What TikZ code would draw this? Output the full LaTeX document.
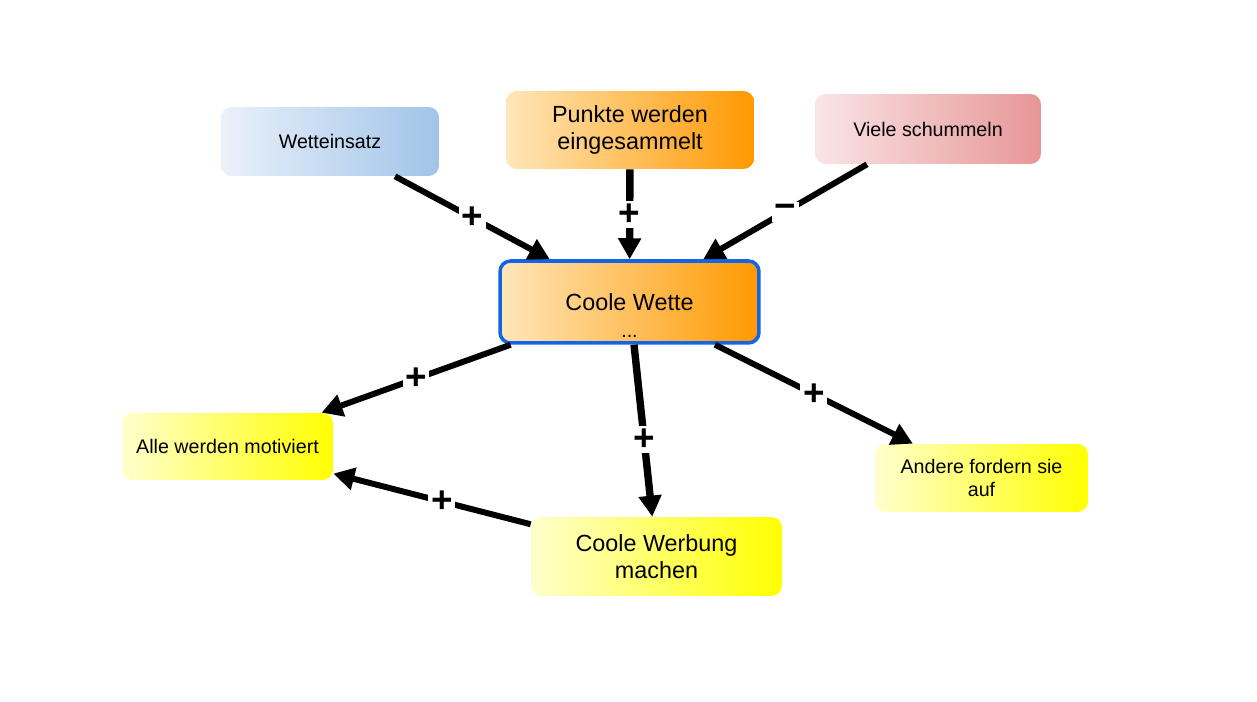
\documentclass[tikz,border=0pt]{standalone}
\usepackage{fontspec}
\setmainfont{Liberation Sans}
\usetikzlibrary{arrows.meta,positioning}
\definecolor{stakeblue}{RGB}{160, 196, 232}
\definecolor{stakelight}{RGB}{234, 241, 250}
\definecolor{hotorange}{RGB}{255, 153, 0}
\definecolor{hotlight}{RGB}{255, 230, 186}
\definecolor{cheatred}{RGB}{232, 150, 150}
\definecolor{cheatlight}{RGB}{249, 229, 231}
\definecolor{resultyellow}{RGB}{255, 255, 0}
\definecolor{resultlight}{RGB}{255, 255, 205}
\definecolor{focusblue}{RGB}{20, 100, 230}
\tikzset{
 smallbox/.style={
 rectangle,
 rounded corners=6pt,
 align=center,
 inner sep=0pt,
 font=\fontsize{11.2}{13.6}\selectfont
 },
 bigbox/.style={
 smallbox,
 font=\fontsize{13.3}{15.6}\selectfont
 },
 bluefill/.style={left color=stakelight, middle color=stakeblue!70!stakelight, right color=stakeblue},
 orangefill/.style={left color=hotlight, middle color=hotorange!70!hotlight, right color=hotorange},
 redfill/.style={left color=cheatlight, middle color=cheatred!65!cheatlight, right color=cheatred},
 yellowfill/.style={left color=resultlight, middle color=resultyellow!75!resultlight, right color=resultyellow},
 effect/.style={-{Triangle[length=4.2mm, width=4.4mm]}, line width=3.4pt},
 sign/.style={fill=white, inner sep=1.5pt, font=\fontsize{21}{21}\selectfont\bfseries}
}

\begin{document}
\begin{tikzpicture}[x=0.02cm, y=-0.02cm]
 \useasboundingbox (0,0) rectangle (1257,702);

 \node[smallbox, bluefill, minimum width=4.36cm, minimum height=1.38cm] (stake) at (330,141.5) {Wetteinsatz};
 \node[bigbox, orangefill, minimum width=4.96cm, minimum height=1.56cm] (points) at (630,130) {Punkte werden\\eingesammelt};
 \node[smallbox, redfill, minimum width=4.52cm, minimum height=1.40cm] (cheat) at (928,129) {Viele schummeln};

 \node[bigbox, orangefill, draw=focusblue, line width=2pt, minimum width=5.18cm, minimum height=1.64cm,
 label={[anchor=south, inner sep=4pt, font=\fontsize{11.2}{13}\selectfont]south:...}] (bet) at (629.5,302) {Coole Wette};

 \node[smallbox, yellowfill, minimum width=4.22cm, minimum height=1.34cm] (motiv) at (227.5,446.5) {Alle werden motiviert};
 \node[smallbox, yellowfill, minimum width=4.26cm, minimum height=1.36cm] (others) at (981.5,478) {Andere fordern sie\\auf};
 \node[bigbox, yellowfill, minimum width=5.02cm, minimum height=1.58cm] (ads) at (656.5,556.5) {Coole Werbung\\machen};

 \draw[effect] (stake) -- node[sign] {+} (bet);
 \draw[effect, line width=4.2pt] (points) -- node[sign] {+} (bet);
 \draw[effect] (cheat) -- node[sign] {\symbol{"2212}} (bet);
 \draw[effect] (bet) -- node[sign] {+} (motiv);
 \draw[effect, line width=4.2pt] (bet) -- node[sign, pos=0.55] {+} (ads);
 \draw[effect] (bet) -- node[sign] {+} (others);
 \draw[effect] (ads) -- node[sign, pos=0.45] {+} (motiv);
\end{tikzpicture}
\end{document}
